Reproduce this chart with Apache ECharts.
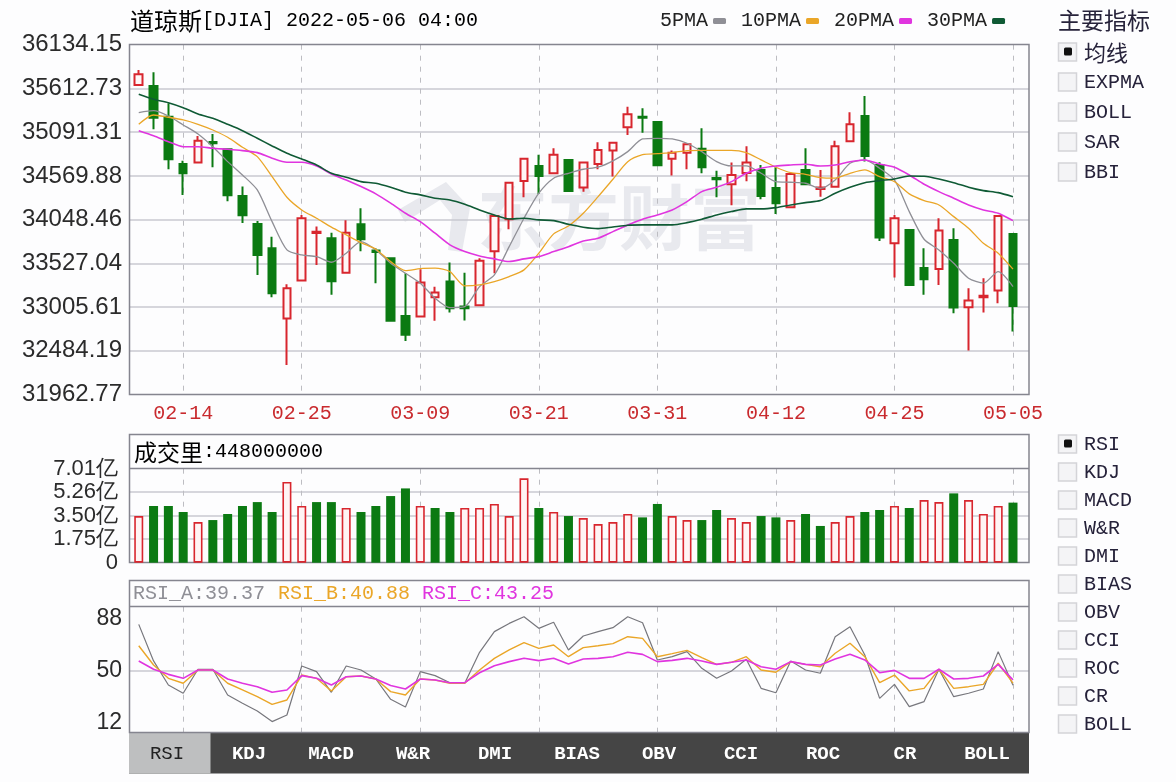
<!DOCTYPE html>
<html>
<head>
<meta charset="utf-8">
<style>html,body{margin:0;padding:0;background:#fdfdfe}#c{width:1176px;height:782px}</style>
<script src="https://cdn.jsdelivr.net/npm/echarts@6/dist/echarts.min.js"></script>
</head>
<body>
<div id="c"></div>
<script>
const dates = ['02-09','02-10','02-11','02-14','02-15','02-16','02-17','02-18','02-22','02-23','02-24','02-25','02-28','03-01','03-02','03-03','03-04','03-07','03-08','03-09','03-10','03-11','03-14','03-15','03-16','03-17','03-18','03-21','03-22','03-23','03-24','03-25','03-28','03-29','03-30','03-31','04-01','04-04','04-05','04-06','04-07','04-08','04-11','04-12','04-13','04-14','04-18','04-19','04-20','04-21','04-22','04-25','04-26','04-27','04-28','04-29','05-02','05-03','05-04','05-05'];
const dateTickIndex = [3,11,19,27,35,43,51,59];
const priceTicks = [31962.77,32484.19,33005.61,33527.04,34048.46,34569.88,35091.31,35612.73,36134.15];
const volumeTicks = [0,1.75,3.50,5.26,7.01];
const rsiLabelTicks = [12,50,88];
const rsiLineTicks = [50];
// open, close, low, high
const candles = [
[35654,35781,35654,35833],[35642,35264,35126,35805],[35276,34768,34649,35436],[34712,34601,34343,34751],[34728,34990,34728,35046],
[34974,34959,34673,35070],[34887,34339,34267,34887],[34331,34101,34009,34442],[33997,33627,33389,34033],[33707,33171,33123,33845],
[32868,33230,32316,33278],[33321,34065,33321,34104],[33890,33905,33508,33965],[33826,33314,33151,33893],[33416,33893,33416,34041],
[33993,33814,33671,34184],[33679,33663,33290,33707],[33588,32841,32841,33588],[32900,32674,32602,33409],[32892,33297,32892,33457],
[33123,33178,32841,33249],[33309,32992,32940,33536],[33011,32992,32844,33416],[33028,33559,33028,33588],[33671,34092,33409,34104],
[34053,34489,33934,34489],[34509,34775,34315,34780],[34688,34569,34355,34823],[34601,34823,34601,34899],[34760,34390,34390,34760],
[34430,34728,34382,34728],[34712,34879,34649,34971],[34871,34966,34561,34971],[35150,35304,35058,35395],[35276,35264,35085,35376],
[35213,34697,34697,35213],[34775,34847,34573,34871],[34847,34947,34649,34950],[34894,34673,34601,35138],[34545,34530,34315,34632],
[34470,34581,34220,34728],[34605,34728,34506,34923],[34641,34331,34291,34700],[34426,34244,34116,34673],[34196,34593,34184,34601],
[34641,34470,34470,34899],[34414,34430,34322,34641],[34441,34923,34441,34990],[34983,35185,34983,35328],[35284,34807,34740,35523],
[34700,33834,33794,34732],[33767,34065,33357,34104],[33925,33270,33270,33925],[33472,33338,33151,33707],[33460,33917,33270,34065],
[33806,33000,32932,33946],[33004,33083,32487,33230],[33123,33139,32940,33350],[33202,34092,33052,34104],[33878,33019,32713,33878]
];
const ma5 = [35324,35347,35284,35177,35070,34918,34740,34581,34402,34024,33687,33627,33607,33540,33648,33786,33687,33528,33409,33290,33111,32999,33011,33249,33389,33726,34065,34363,34542,34601,34649,34673,34748,34859,35010,35018,35010,34959,34859,34740,34688,34688,34601,34501,34494,34482,34422,34521,34720,34760,34661,34521,34144,33814,33687,33528,33350,33290,33428,33249];
const ma10 = [35185,35296,35269,35237,35185,35117,35030,34911,34799,34561,34315,34164,34065,33958,33866,33774,33695,33547,33440,33464,33469,33428,33258,33270,33309,33369,33449,33648,33878,33973,34124,34322,34530,34739,34823,34835,34847,34871,34875,34875,34875,34847,34760,34673,34608,34589,34549,34542,34601,34641,34561,34501,34355,34275,34223,34084,33946,33767,33648,33457];
const ma20 = [35109,35049,34978,34918,34918,34899,34887,34871,34847,34780,34732,34732,34688,34593,34521,34442,34355,34244,34124,34024,33886,33747,33667,33615,33580,33548,33580,33607,33667,33726,33794,33826,33905,33985,34053,34104,34164,34263,34382,34434,34501,34601,34661,34688,34700,34709,34688,34700,34739,34760,34712,34673,34581,34470,34382,34303,34223,34164,34124,34036];
const ma30 = [35543,35483,35443,35383,35308,35257,35185,35109,35018,34927,34840,34772,34700,34601,34554,34501,34482,34434,34375,34343,34303,34283,34232,34164,34104,34056,34065,34045,34036,33993,33958,33941,33961,33981,33985,33985,33985,34012,34053,34104,34144,34176,34176,34191,34223,34251,34275,34363,34434,34489,34513,34533,34569,34565,34533,34489,34434,34394,34370,34322];
// 亿 shares
const volumes = [3.48,4.23,4.23,3.78,3.03,3.18,3.63,4.23,4.52,3.78,6.02,4.23,4.52,4.52,4.08,3.78,4.23,4.97,5.54,4.23,4.08,3.78,4.08,4.08,4.38,3.48,6.29,4.08,3.78,3.48,3.33,2.88,3.03,3.63,3.38,4.38,3.48,3.18,3.18,3.93,3.33,3.03,3.48,3.38,3.18,3.63,2.74,3.03,3.48,3.78,3.93,4.23,4.08,4.67,4.52,5.17,4.67,3.63,4.23,4.48];
const volumeUp = [1,0,0,0,1,0,0,0,0,0,1,1,0,0,1,0,0,0,0,1,0,0,1,1,1,1,1,0,1,0,1,1,1,1,0,0,1,1,0,0,1,1,0,0,1,0,0,1,1,0,0,1,0,1,1,0,1,1,1,0];
const rsiA = [83.8,57.1,39.5,33.5,51,51,32.2,26.2,20.6,12.8,17.6,53.4,49.3,34.2,53.4,50.5,43.9,29.1,23.5,49.3,46.4,41.2,40.8,63.4,78.5,84.5,89.4,80.9,85.3,65.1,75.3,78.5,81.4,89.4,85,57.8,60.2,63.9,51.7,44.4,49.8,58.3,37.1,33.9,57.1,50.5,48.1,74.8,82.1,61.4,29.8,40,23.7,27.4,51,31,33.5,36.6,63.9,39.37];
const rsiB = [68.2,54.1,44.4,40.8,50.5,50.5,40.8,35.9,31,25.4,28.6,46.8,44.4,35.2,45.6,46.1,43.9,34.7,32.2,43.9,43.2,40.8,40.8,50.5,59,65.1,70.4,66.3,68.7,60.2,66.8,68.2,69.7,74.8,73.6,60.2,62.4,64.8,59.5,54.6,56.1,60.2,50.5,48.8,56.6,54.6,52.9,62.7,70,60.2,41.2,46.8,35.2,37.1,51,37.1,38.3,40,55.4,40.88];
const rsiC = [57.1,51,47.3,44.4,50.5,50.5,43.9,40.8,38.3,34.2,35.9,46.4,44.4,39.5,45.6,46.1,43.9,39.1,36.6,43.9,43.2,41.2,41.2,48.5,53.6,56.6,59,57.3,59,54.9,58.5,59,60.2,63.4,61.9,56.6,57.5,59,57.1,54.6,56.1,57.8,52.9,51,56.6,54.6,54.1,58.5,61.9,57.8,48.5,50.2,44.4,44.4,51,43.9,44.4,46.1,54.6,43.25];
const mainIndicators = ['均线','EXPMA','BOLL','SAR','BBI'];
const subIndicators = ['RSI','KDJ','MACD','W&R','DMI','BIAS','OBV','CCI','ROC','CR','BOLL'];
const tabLabels = ['RSI','KDJ','MACD','W&R','DMI','BIAS','OBV','CCI','ROC','CR','BOLL'];
const volumeTitle = '448000000';

const RED='#d8262e', GREEN='#0b7a12', GRAY='#8f8f96', ORANGE='#eaa628', MAG='#e035df', DKG='#0f5a35';
const MONO='"Liberation Mono"', SANS='"Liberation Sans"', CJK='"Noto Sans CJK SC"', BORDER='#85858f', GRID='#c9c9d0';
const L=130, R=1176-1029, xMin=-0.59, xMax=60.08;
const idx = a => a.map((v,i)=>[i,v]);

function panelX(gridIndex, showLabel){
  return {type:'value',gridIndex,min:xMin,max:xMax,
    axisLine:{show:false},
    axisTick:{show:false,customValues:dateTickIndex},
    splitLine:{show:true,lineStyle:{color:'#bdbdc2',type:[5,6],width:1}},
    axisLabel:{show:showLabel,customValues:dateTickIndex,formatter:v=>dates[v],color:'#c92a2e',fontFamily:MONO,fontSize:20,margin:9,hideOverlap:false}};
}
function panelY(gridIndex,min,max,labels,lines,fmt,fs,mg){
  return {type:'value',gridIndex,min,max,
    axisLine:{show:false},
    axisTick:{show:false,customValues:lines},
    splitLine:{show:true,lineStyle:{color:GRID,width:1.5}},
    axisLabel:{customValues:labels,formatter:fmt,color:'#2b2b2b',fontFamily:SANS,fontSize:fs,margin:mg,align:'right',showMinLabel:true,showMaxLabel:true}};
}
const maSeries=(name,data,color,w)=>({name,type:'line',data:idx(data),xAxisIndex:0,yAxisIndex:0,showSymbol:false,symbol:'none',smooth:0.25,z:5,
  lineStyle:{color,width:w},itemStyle:{color},silent:true});
const rsiSeries=(name,data,color,w)=>({name,type:'line',data:idx(data),xAxisIndex:2,yAxisIndex:2,showSymbol:false,symbol:'none',z:5,
  lineStyle:{color,width:w},itemStyle:{color},silent:true});

const g=[];
function box(x,y,w,h,fill,stroke,z){g.push({type:'rect',shape:{x,y,width:w,height:h},style:{fill:fill||'transparent',stroke:stroke||null,lineWidth:stroke?1.5:0},z:z||0,silent:true});}
function txt(x,y,text,font,size,color){g.push({type:'text',x,y,z:9,silent:true,style:{text,fontFamily:font,fontSize:size,fill:color,verticalAlign:'middle'}});}
function rich(x,y,text,r){g.push({type:'text',x,y,z:9,silent:true,style:{text,rich:r,verticalAlign:'middle'}});}

// watermark
g.push({type:'text',x:477,y:217,z:0,silent:true,style:{text:'东方财富',fontFamily:CJK,fontWeight:'bold',fontSize:71,fill:'#e8e9ee',verticalAlign:'middle'}});
g.push({type:'polygon',z:0,silent:true,shape:{points:[[398,210],[446,182],[470,208],[462,252],[448,250],[452,215],[440,200],[405,222]]},style:{fill:'#e8e9ee'}});

// header
rich(130,21,'{c|道琼斯}{m|[DJIA] 2022-05-06 04:00}',{c:{fontFamily:CJK,fontSize:24,color:'#222'},m:{fontFamily:MONO,fontSize:20,color:'#222'}});
// frames
box(129.5,44.5,899.5,350,null,BORDER,1);
box(129.5,434.5,899.5,128,null,BORDER,1);
g.push({type:'line',shape:{x1:129.5,y1:468.5,x2:1029,y2:468.5},style:{stroke:BORDER,lineWidth:1.5},z:1,silent:true});
box(129.5,580.5,899.5,152,null,BORDER,1);
g.push({type:'line',shape:{x1:129.5,y1:606.5,x2:1029,y2:606.5},style:{stroke:BORDER,lineWidth:1.5},z:1,silent:true});
// volume title
rich(134,452,'{c|成交里}{m|:'+volumeTitle+'}',{c:{fontFamily:CJK,fontSize:23,color:'#222'},m:{fontFamily:MONO,fontSize:20,color:'#222'}});
// RSI header
txt(133,594,'RSI_A:39.37',MONO,20,GRAY);
txt(278,594,'RSI_B:40.88',MONO,20,ORANGE);
txt(422,594,'RSI_C:43.25',MONO,20,MAG);
// tabs
box(129,733,900,40.5,'#454545');
box(129,733,81.5,40.5,'#bebfc0');
tabLabels.forEach((t,i)=>{
  g.push({type:'text',x:167+82*i,y:754,z:9,silent:true,style:{text:t,fontFamily:MONO,fontSize:19,fontWeight:i?'bold':'normal',fill:i?'#fff':'#222',align:'center',verticalAlign:'middle'}});
});
// side panel
function check(y,label,on){
  g.push({type:'rect',z:3,silent:true,shape:{x:1058.5,y:y-9,width:18,height:18},style:{fill:'#f4f4f6',stroke:'#d4d4d8',lineWidth:1.5}});
  if(on) g.push({type:'rect',z:4,silent:true,shape:{x:1064,y:y-4.5,width:8,height:8,r:1.5},style:{fill:'#111'}});
  const isCJK=/[^\x00-\x7f]/.test(label);
  txt(1084,y+1,label,isCJK?CJK:MONO,isCJK?22:20,'#26223a');
}
txt(1058,20,'主要指标',CJK,23,'#26223a');
mainIndicators.forEach((t,i)=>check(52+30*i,t,i===0));
subIndicators.forEach((t,i)=>check(444+28*i,t,i===0));

const option={
  animation:false,
  backgroundColor:'#fdfdfe',
  textStyle:{fontFamily:SANS},
  legend:{left:655,top:6,align:'right',icon:'roundRect',itemWidth:13,itemHeight:6,itemGap:15,
    selectedMode:false,data:['5PMA','10PMA','20PMA','30PMA'],textStyle:{fontFamily:MONO,fontSize:20,color:'#222'}},
  grid:[
    {left:L,right:R,top:44.7,bottom:782-394.5},
    {left:L,right:R,top:468.7,bottom:782-562.7},
    {left:L,right:R,top:606.7,bottom:782-732.7}
  ],
  xAxis:[panelX(0,true),panelX(1,false),panelX(2,false)],
  yAxis:[
    panelY(0,31962.77,36134.15,priceTicks,priceTicks.slice(1,-1),v=>v.toFixed(2),24,8),
    panelY(1,0,7.01,volumeTicks,volumeTicks.slice(1,-1),v=>v===0?'0':v.toFixed(2)+'亿',22,12),
    panelY(2,4.7,96.7,rsiLabelTicks,rsiLineTicks,v=>String(v),23,8)
  ],
  graphic:{elements:g},
  series:[
    {name:'K',type:'candlestick',xAxisIndex:0,yAxisIndex:0,barWidth:8,z:3,silent:true,
      data:candles.map((c,i)=>[i].concat(c)),
      itemStyle:{color:'#fff7f7',color0:GREEN,borderColor:RED,borderColor0:GREEN,borderWidth:2}},
    maSeries('5PMA',ma5,GRAY,1.3),
    maSeries('10PMA',ma10,ORANGE,1.3),
    maSeries('20PMA',ma20,MAG,1.6),
    maSeries('30PMA',ma30,DKG,1.6),
    {name:'成交量',type:'bar',xAxisIndex:1,yAxisIndex:1,barWidth:9,z:3,silent:true,
      data:volumes.map((v,i)=>({value:[i,v],itemStyle:volumeUp[i]?{color:'#fff4f4',borderColor:RED,borderWidth:1.6}:{color:GREEN,borderWidth:0}}))},
    rsiSeries('RSI_A',rsiA,'#77777d',1.2),
    rsiSeries('RSI_B',rsiB,ORANGE,1.4),
    rsiSeries('RSI_C',rsiC,MAG,1.6)
  ]
};
echarts.init(document.getElementById('c'),null,{renderer:'canvas'}).setOption(option);
</script>
</body>
</html>
